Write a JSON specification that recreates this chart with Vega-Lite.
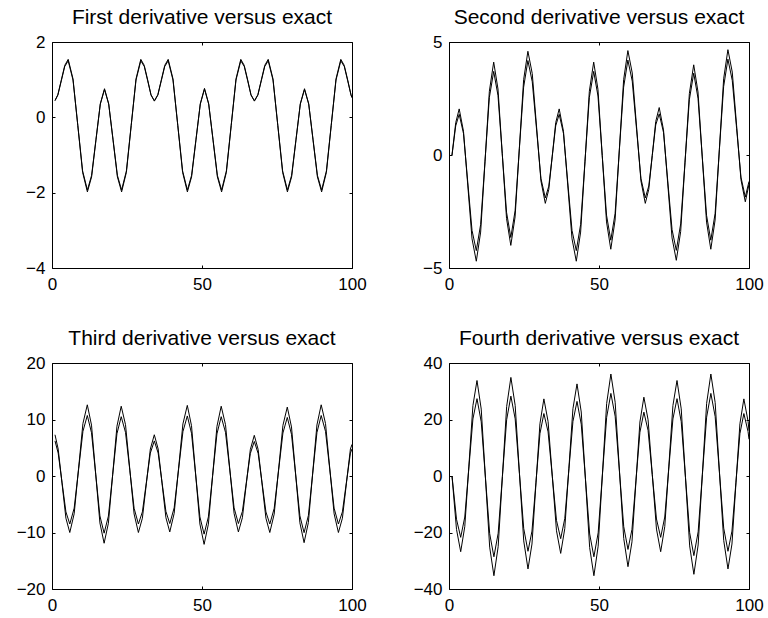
{
  "$schema": "https://vega.github.io/schema/vega-lite/v6.json",
  "background": "white",
  "padding": {"left": 15, "top": 6, "right": 5, "bottom": 5},
  "columns": 2,
  "spacing": {"row": 95, "column": 97},
  "bounds": "flush",
  "config": {
    "view": {"stroke": "black", "strokeWidth": 1},
    "axis": {"domain": false, "grid": false, "ticks": true, "tickColor": "black", "tickSize": -3, "tickWidth": 1, "labelFont": "Liberation Sans", "labelFontSize": 17, "labelColor": "black", "labelFlush": false, "labelOverlap": false},
    "axisX": {"labelPadding": 11},
    "axisY": {"labelPadding": 10},
    "title": {"font": "Liberation Sans", "fontSize": 21, "fontWeight": "normal", "color": "black", "baseline": "alphabetic", "offset": 5},
    "line": {"color": "black", "strokeWidth": 1}
  },
  "datasets": {
    "d1": [
      {"t":1,"c":0.45,"e":0.44},{"t":1.95,"c":0.60,"e":0.59},{"t":3.1,"c":0.99,"e":0.97},{"t":4.25,"c":1.38,"e":1.35},{"t":5.4,"c":1.54,"e":1.50},
      {"t":7.0,"c":1.02,"e":0.99},{"t":8.6,"c":-0.22,"e":-0.21},{"t":10.2,"c":-1.46,"e":-1.42},{"t":11.8,"c":-1.98,"e":-1.93},
      {"t":13.2,"c":-1.58,"e":-1.54},{"t":14.65,"c":-0.61,"e":-0.59},{"t":16.1,"c":0.36,"e":0.35},{"t":17.5,"c":0.76,"e":0.74},
      {"t":18.9,"c":0.36,"e":0.35},{"t":20.35,"c":-0.61,"e":-0.59},{"t":21.8,"c":-1.58,"e":-1.54},{"t":23.2,"c":-1.98,"e":-1.93},
      {"t":24.8,"c":-1.46,"e":-1.42},{"t":26.4,"c":-0.22,"e":-0.21},{"t":28.0,"c":1.02,"e":0.99},{"t":29.6,"c":1.54,"e":1.50},
      {"t":30.75,"c":1.38,"e":1.35},{"t":31.9,"c":0.99,"e":0.97},{"t":33.0,"c":0.60,"e":0.59},
      {"t":34.13,"c":0.44,"e":0.43},{"t":35.28,"c":0.60,"e":0.59},{"t":36.43,"c":0.99,"e":0.97},{"t":37.58,"c":1.38,"e":1.35},{"t":38.73,"c":1.54,"e":1.50},
      {"t":40.33,"c":1.02,"e":0.99},{"t":41.93,"c":-0.22,"e":-0.21},{"t":43.53,"c":-1.46,"e":-1.42},{"t":45.13,"c":-1.98,"e":-1.93},
      {"t":46.53,"c":-1.58,"e":-1.54},{"t":47.98,"c":-0.61,"e":-0.59},{"t":49.43,"c":0.36,"e":0.35},{"t":50.83,"c":0.77,"e":0.75},
      {"t":52.23,"c":0.36,"e":0.35},{"t":53.68,"c":-0.61,"e":-0.59},{"t":55.13,"c":-1.58,"e":-1.54},{"t":56.53,"c":-1.98,"e":-1.93},
      {"t":58.13,"c":-1.46,"e":-1.42},{"t":59.73,"c":-0.22,"e":-0.21},{"t":61.33,"c":1.02,"e":0.99},{"t":62.93,"c":1.54,"e":1.50},
      {"t":64.08,"c":1.38,"e":1.35},{"t":65.23,"c":0.99,"e":0.97},{"t":66.33,"c":0.60,"e":0.59},
      {"t":67.47,"c":0.44,"e":0.43},{"t":68.62,"c":0.60,"e":0.59},{"t":69.77,"c":0.99,"e":0.97},{"t":70.92,"c":1.38,"e":1.35},{"t":72.07,"c":1.54,"e":1.50},
      {"t":73.67,"c":1.02,"e":0.99},{"t":75.27,"c":-0.22,"e":-0.21},{"t":76.87,"c":-1.46,"e":-1.42},{"t":78.47,"c":-1.98,"e":-1.93},
      {"t":79.87,"c":-1.58,"e":-1.54},{"t":81.32,"c":-0.61,"e":-0.59},{"t":82.77,"c":0.36,"e":0.35},{"t":84.17,"c":0.76,"e":0.74},
      {"t":85.57,"c":0.36,"e":0.35},{"t":87.02,"c":-0.61,"e":-0.59},{"t":88.47,"c":-1.58,"e":-1.54},{"t":89.87,"c":-1.98,"e":-1.93},
      {"t":91.47,"c":-1.46,"e":-1.42},{"t":93.07,"c":-0.22,"e":-0.21},{"t":94.67,"c":1.02,"e":0.99},{"t":96.27,"c":1.54,"e":1.50},
      {"t":97.42,"c":1.38,"e":1.35},{"t":98.57,"c":0.99,"e":0.97},{"t":99.67,"c":0.60,"e":0.59},{"t":100,"c":0.53,"e":0.52}
    ],
    "d2": [
      {"t":1,"c":0.00,"e":0.00},{"t":2.24,"c":1.43,"e":1.29},{"t":3.4,"c":2.04,"e":1.80},
      {"t":4.83,"c":1.05,"e":0.95},{"t":6.25,"c":-1.33,"e":-1.20},{"t":7.68,"c":-3.71,"e":-3.34},{"t":9.1,"c":-4.70,"e":-4.23},
      {"t":10.55,"c":-3.41,"e":-3.07},{"t":12.0,"c":-0.30,"e":-0.27},{"t":13.45,"c":2.82,"e":2.54},{"t":14.9,"c":4.11,"e":3.70},
      {"t":16.33,"c":2.92,"e":2.63},{"t":17.75,"c":0.06,"e":0.05},{"t":19.18,"c":-2.81,"e":-2.53},{"t":20.6,"c":-4.00,"e":-3.65},
      {"t":22.03,"c":-2.74,"e":-2.47},{"t":23.45,"c":0.30,"e":0.27},{"t":24.88,"c":3.33,"e":3.00},{"t":26.3,"c":4.59,"e":4.18},
      {"t":27.75,"c":3.60,"e":3.24},{"t":29.2,"c":1.23,"e":1.11},{"t":30.65,"c":-1.15,"e":-1.04},{"t":32.1,"c":-2.14,"e":-1.90},
      {"t":33.26,"c":-1.53,"e":-1.38},{"t":34.42,"c":-0.05,"e":-0.05},{"t":35.57,"c":1.43,"e":1.29},{"t":36.73,"c":2.04,"e":1.80},
      {"t":38.16,"c":1.05,"e":0.95},{"t":39.58,"c":-1.33,"e":-1.20},{"t":41.01,"c":-3.71,"e":-3.34},{"t":42.43,"c":-4.70,"e":-4.23},
      {"t":43.88,"c":-3.41,"e":-3.07},{"t":45.33,"c":-0.30,"e":-0.27},{"t":46.78,"c":2.82,"e":2.54},{"t":48.23,"c":4.11,"e":3.70},
      {"t":49.66,"c":2.90,"e":2.61},{"t":51.08,"c":-0.03,"e":-0.03},{"t":52.51,"c":-2.96,"e":-2.66},{"t":53.93,"c":-4.17,"e":-3.77},
      {"t":55.36,"c":-2.88,"e":-2.59},{"t":56.78,"c":0.23,"e":0.21},{"t":58.21,"c":3.33,"e":3.00},{"t":59.63,"c":4.62,"e":4.20},
      {"t":61.08,"c":3.63,"e":3.27},{"t":62.53,"c":1.24,"e":1.12},{"t":63.98,"c":-1.15,"e":-1.04},{"t":65.43,"c":-2.14,"e":-1.90},
      {"t":66.59,"c":-1.52,"e":-1.37},{"t":67.75,"c":-0.02,"e":-0.02},{"t":68.91,"c":1.48,"e":1.33},{"t":70.07,"c":2.10,"e":1.82},
      {"t":71.5,"c":1.11,"e":1.00},{"t":72.92,"c":-1.28,"e":-1.15},{"t":74.35,"c":-3.67,"e":-3.30},{"t":75.77,"c":-4.66,"e":-4.22},
      {"t":77.22,"c":-3.39,"e":-3.05},{"t":78.67,"c":-0.34,"e":-0.31},{"t":80.12,"c":2.72,"e":2.45},{"t":81.57,"c":3.99,"e":3.62},
      {"t":83.0,"c":2.79,"e":2.51},{"t":84.42,"c":-0.09,"e":-0.08},{"t":85.85,"c":-2.97,"e":-2.67},{"t":87.27,"c":-4.17,"e":-3.77},
      {"t":88.7,"c":-2.88,"e":-2.59},{"t":90.12,"c":0.25,"e":0.23},{"t":91.55,"c":3.37,"e":3.03},{"t":92.97,"c":4.66,"e":4.24},
      {"t":94.42,"c":3.67,"e":3.30},{"t":95.87,"c":1.30,"e":1.17},{"t":97.32,"c":-1.09,"e":-0.98},{"t":98.77,"c":-2.07,"e":-1.86},
      {"t":100,"c":-1.30,"e":-1.17}
    ],
    "d3": [
      {"t":1,"c":7.30,"e":6.21},{"t":2.06,"c":4.77,"e":4.05},{"t":3.35,"c":-1.35,"e":-1.15},{"t":4.64,"c":-7.47,"e":-6.35},{"t":5.93,"c":-10.00,"e":-8.50},
      {"t":7.39,"c":-6.69,"e":-5.69},{"t":8.85,"c":1.30,"e":1.11},{"t":10.31,"c":9.29,"e":7.90},{"t":11.77,"c":12.60,"e":10.71},
      {"t":13.17,"c":9.01,"e":7.66},{"t":14.57,"c":0.35,"e":0.30},{"t":15.97,"c":-8.31,"e":-7.06},{"t":17.37,"c":-11.90,"e":-10.12},
      {"t":18.8,"c":-8.35,"e":-7.10},{"t":20.22,"c":0.23,"e":0.20},{"t":21.65,"c":8.80,"e":7.48},{"t":23.07,"c":12.35,"e":10.50},
      {"t":24.5,"c":9.08,"e":7.72},{"t":25.94,"c":1.18,"e":1.00},{"t":27.37,"c":-6.73,"e":-5.72},{"t":28.8,"c":-10.00,"e":-8.50},
      {"t":30.13,"c":-7.47,"e":-6.35},{"t":31.45,"c":-1.35,"e":-1.15},{"t":32.78,"c":4.77,"e":4.05},{"t":34.1,"c":7.30,"e":6.21},
      {"t":35.39,"c":4.78,"e":4.06},{"t":36.68,"c":-1.30,"e":-1.11},{"t":37.97,"c":-7.38,"e":-6.27},{"t":39.26,"c":-9.90,"e":-8.42},
      {"t":40.72,"c":-6.62,"e":-5.63},{"t":42.18,"c":1.30,"e":1.11},{"t":43.64,"c":9.22,"e":7.84},{"t":45.1,"c":12.50,"e":10.63},
      {"t":46.5,"c":8.90,"e":7.57},{"t":47.9,"c":0.20,"e":0.17},{"t":49.3,"c":-8.50,"e":-7.23},{"t":50.7,"c":-12.10,"e":-10.29},
      {"t":52.13,"c":-8.52,"e":-7.24},{"t":53.55,"c":0.13,"e":0.11},{"t":54.98,"c":8.77,"e":7.45},{"t":56.4,"c":12.35,"e":10.50},
      {"t":57.83,"c":9.09,"e":7.73},{"t":59.27,"c":1.23,"e":1.05},{"t":60.7,"c":-6.64,"e":-5.64},{"t":62.13,"c":-9.90,"e":-8.42},
      {"t":63.46,"c":-7.39,"e":-6.28},{"t":64.78,"c":-1.35,"e":-1.15},{"t":66.11,"c":4.69,"e":3.99},{"t":67.43,"c":7.20,"e":6.12},
      {"t":68.72,"c":4.68,"e":3.98},{"t":70.02,"c":-1.40,"e":-1.19},{"t":71.31,"c":-7.48,"e":-6.36},{"t":72.6,"c":-10.00,"e":-8.50},
      {"t":74.06,"c":-6.75,"e":-5.74},{"t":75.52,"c":1.10,"e":0.94},{"t":76.97,"c":8.95,"e":7.61},{"t":78.43,"c":12.20,"e":10.37},
      {"t":79.83,"c":8.68,"e":7.38},{"t":81.23,"c":0.20,"e":0.17},{"t":82.63,"c":-8.28,"e":-7.04},{"t":84.03,"c":-11.80,"e":-10.03},
      {"t":85.46,"c":-8.23,"e":-7.00},{"t":86.88,"c":0.40,"e":0.34},{"t":88.31,"c":9.03,"e":7.68},{"t":89.73,"c":12.60,"e":10.71},
      {"t":91.17,"c":9.29,"e":7.90},{"t":92.6,"c":1.30,"e":1.11},{"t":94.04,"c":-6.69,"e":-5.69},{"t":95.47,"c":-10.00,"e":-8.50},
      {"t":96.8,"c":-7.47,"e":-6.35},{"t":98.13,"c":-1.35,"e":-1.15},{"t":99.47,"c":4.77,"e":4.05},{"t":100,"c":5.60,"e":4.80}
    ],
    "d4": [
      {"t":1,"c":0.00,"e":0.00},{"t":2.5,"c":-18.90,"e":-15.31},{"t":3.9,"c":-26.80,"e":-21.71},
      {"t":5.26,"c":-17.92,"e":-14.52},{"t":6.62,"c":3.50,"e":2.84},{"t":7.97,"c":24.92,"e":20.19},{"t":9.33,"c":33.80,"e":27.38},
      {"t":10.74,"c":23.68,"e":19.18},{"t":12.15,"c":-0.75,"e":-0.61},{"t":13.56,"c":-25.18,"e":-20.40},{"t":14.97,"c":-35.30,"e":-28.59},
      {"t":16.39,"c":-25.02,"e":-20.27},{"t":17.8,"c":-0.20,"e":-0.16},{"t":19.22,"c":24.62,"e":19.94},{"t":20.63,"c":34.90,"e":28.27},
      {"t":22.06,"c":24.97,"e":20.23},{"t":23.48,"c":1.00,"e":0.81},{"t":24.91,"c":-22.97,"e":-18.61},{"t":26.33,"c":-32.90,"e":-26.65},
      {"t":27.66,"c":-24.08,"e":-19.50},{"t":28.98,"c":-2.80,"e":-2.27},{"t":30.31,"c":18.48,"e":14.97},{"t":31.63,"c":27.30,"e":22.11},
      {"t":33.03,"c":19.29,"e":15.62},{"t":34.43,"c":-0.05,"e":-0.04},{"t":35.83,"c":-19.39,"e":-15.71},{"t":37.23,"c":-27.40,"e":-22.19},
      {"t":38.59,"c":-18.61,"e":-15.07},{"t":39.95,"c":2.60,"e":2.11},{"t":41.31,"c":23.81,"e":19.29},{"t":42.67,"c":32.60,"e":26.41},
      {"t":44.08,"c":22.65,"e":18.35},{"t":45.49,"c":-1.35,"e":-1.09},{"t":46.89,"c":-25.35,"e":-20.53},{"t":48.3,"c":-35.30,"e":-28.59},
      {"t":49.72,"c":-24.84,"e":-20.12},{"t":51.13,"c":0.40,"e":0.32},{"t":52.55,"c":25.64,"e":20.77},{"t":53.96,"c":36.10,"e":29.24},
      {"t":55.39,"c":26.11,"e":21.15},{"t":56.81,"c":2.00,"e":1.62},{"t":58.24,"c":-22.11,"e":-17.91},{"t":59.66,"c":-32.10,"e":-26.00},
      {"t":60.99,"c":-23.31,"e":-18.88},{"t":62.31,"c":-2.10,"e":-1.70},{"t":63.64,"c":19.11,"e":15.48},{"t":64.96,"c":27.90,"e":22.60},
      {"t":66.36,"c":19.89,"e":16.11},{"t":67.76,"c":0.55,"e":0.45},{"t":69.16,"c":-18.79,"e":-15.22},{"t":70.56,"c":-26.80,"e":-21.71},
      {"t":71.92,"c":-17.92,"e":-14.52},{"t":73.28,"c":3.50,"e":2.84},{"t":74.64,"c":24.92,"e":20.19},{"t":76.0,"c":33.80,"e":27.38},
      {"t":77.41,"c":23.75,"e":19.24},{"t":78.82,"c":-0.50,"e":-0.41},{"t":80.22,"c":-24.75,"e":-20.05},{"t":81.63,"c":-34.80,"e":-28.19},
      {"t":83.05,"c":-24.41,"e":-19.77},{"t":84.46,"c":0.65,"e":0.53},{"t":85.88,"c":25.71,"e":20.83},{"t":87.29,"c":36.10,"e":29.24},
      {"t":88.72,"c":25.99,"e":21.05},{"t":90.14,"c":1.60,"e":1.30},{"t":91.57,"c":-22.79,"e":-18.46},{"t":92.99,"c":-32.90,"e":-26.65},
      {"t":94.32,"c":-24.08,"e":-19.50},{"t":95.64,"c":-2.80,"e":-2.27},{"t":96.97,"c":18.48,"e":14.97},{"t":98.29,"c":27.30,"e":22.11},
      {"t":99.69,"c":19.37,"e":15.69},{"t":100,"c":16.00,"e":13.00}
    ]
  },
  "concat": [
    {
      "title": {"text": "First derivative versus exact"},
      "width": 300, "height": 226,
      "data": {"name": "d1"},
      "transform": [{"fold": ["c", "e"], "as": ["series", "v"]}],
      "layer": [
        {"mark": {"type": "line"},
         "encoding": {
           "x": {"field": "t", "type": "quantitative", "scale": {"domain": [0, 100], "nice": false, "zero": false}, "axis": {"orient": "bottom", "values": [0, 50, 100], "title": null}},
           "y": {"field": "v", "type": "quantitative", "scale": {"domain": [-4, 2], "nice": false, "zero": false}, "axis": {"orient": "left", "values": [-4, -2, 0, 2], "title": null}},
           "detail": {"field": "series", "type": "nominal"}}},
        {"mark": {"type": "line", "strokeOpacity": 0},
         "encoding": {
           "x": {"field": "t", "type": "quantitative", "scale": {"domain": [0, 100], "nice": false, "zero": false}, "axis": {"orient": "top", "values": [0, 50, 100], "labels": false, "title": null}},
           "y": {"field": "v", "type": "quantitative", "scale": {"domain": [-4, 2], "nice": false, "zero": false}, "axis": {"orient": "right", "values": [-4, -2, 0, 2], "labels": false, "title": null}},
           "detail": {"field": "series", "type": "nominal"}}}
      ],
      "resolve": {"axis": {"x": "independent", "y": "independent"}}
    },
    {
      "title": {"text": "Second derivative versus exact"},
      "width": 300, "height": 226,
      "data": {"name": "d2"},
      "transform": [{"fold": ["c", "e"], "as": ["series", "v"]}],
      "layer": [
        {"mark": {"type": "line"},
         "encoding": {
           "x": {"field": "t", "type": "quantitative", "scale": {"domain": [0, 100], "nice": false, "zero": false}, "axis": {"orient": "bottom", "values": [0, 50, 100], "title": null}},
           "y": {"field": "v", "type": "quantitative", "scale": {"domain": [-5, 5], "nice": false, "zero": false}, "axis": {"orient": "left", "values": [-5, 0, 5], "title": null}},
           "detail": {"field": "series", "type": "nominal"}}},
        {"mark": {"type": "line", "strokeOpacity": 0},
         "encoding": {
           "x": {"field": "t", "type": "quantitative", "scale": {"domain": [0, 100], "nice": false, "zero": false}, "axis": {"orient": "top", "values": [0, 50, 100], "labels": false, "title": null}},
           "y": {"field": "v", "type": "quantitative", "scale": {"domain": [-5, 5], "nice": false, "zero": false}, "axis": {"orient": "right", "values": [-5, 0, 5], "labels": false, "title": null}},
           "detail": {"field": "series", "type": "nominal"}}}
      ],
      "resolve": {"axis": {"x": "independent", "y": "independent"}}
    },
    {
      "title": {"text": "Third derivative versus exact"},
      "width": 300, "height": 226,
      "data": {"name": "d3"},
      "transform": [{"fold": ["c", "e"], "as": ["series", "v"]}],
      "layer": [
        {"mark": {"type": "line"},
         "encoding": {
           "x": {"field": "t", "type": "quantitative", "scale": {"domain": [0, 100], "nice": false, "zero": false}, "axis": {"orient": "bottom", "values": [0, 50, 100], "title": null}},
           "y": {"field": "v", "type": "quantitative", "scale": {"domain": [-20, 20], "nice": false, "zero": false}, "axis": {"orient": "left", "values": [-20, -10, 0, 10, 20], "title": null}},
           "detail": {"field": "series", "type": "nominal"}}},
        {"mark": {"type": "line", "strokeOpacity": 0},
         "encoding": {
           "x": {"field": "t", "type": "quantitative", "scale": {"domain": [0, 100], "nice": false, "zero": false}, "axis": {"orient": "top", "values": [0, 50, 100], "labels": false, "title": null}},
           "y": {"field": "v", "type": "quantitative", "scale": {"domain": [-20, 20], "nice": false, "zero": false}, "axis": {"orient": "right", "values": [-20, -10, 0, 10, 20], "labels": false, "title": null}},
           "detail": {"field": "series", "type": "nominal"}}}
      ],
      "resolve": {"axis": {"x": "independent", "y": "independent"}}
    },
    {
      "title": {"text": "Fourth derivative versus exact"},
      "width": 300, "height": 226,
      "data": {"name": "d4"},
      "transform": [{"fold": ["c", "e"], "as": ["series", "v"]}],
      "layer": [
        {"mark": {"type": "line"},
         "encoding": {
           "x": {"field": "t", "type": "quantitative", "scale": {"domain": [0, 100], "nice": false, "zero": false}, "axis": {"orient": "bottom", "values": [0, 50, 100], "title": null}},
           "y": {"field": "v", "type": "quantitative", "scale": {"domain": [-40, 40], "nice": false, "zero": false}, "axis": {"orient": "left", "values": [-40, -20, 0, 20, 40], "title": null}},
           "detail": {"field": "series", "type": "nominal"}}},
        {"mark": {"type": "line", "strokeOpacity": 0},
         "encoding": {
           "x": {"field": "t", "type": "quantitative", "scale": {"domain": [0, 100], "nice": false, "zero": false}, "axis": {"orient": "top", "values": [0, 50, 100], "labels": false, "title": null}},
           "y": {"field": "v", "type": "quantitative", "scale": {"domain": [-40, 40], "nice": false, "zero": false}, "axis": {"orient": "right", "values": [-40, -20, 0, 20, 40], "labels": false, "title": null}},
           "detail": {"field": "series", "type": "nominal"}}}
      ],
      "resolve": {"axis": {"x": "independent", "y": "independent"}}
    }
  ]
}
